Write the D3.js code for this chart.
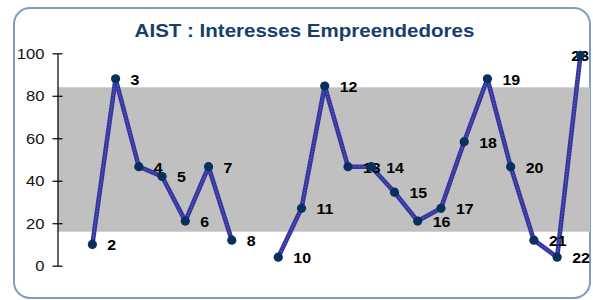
<!DOCTYPE html>
<html>
<head>
<meta charset="utf-8">
<script src="https://cdnjs.cloudflare.com/ajax/libs/d3/7.8.5/d3.min.js"></script>
<style>
  body { margin: 0; background: #fff; }
  svg { display: block; font-family: "Liberation Sans", Arial, sans-serif; }
</style>
</head>
<body>
<svg id="chart" width="593" height="300"></svg>
<script>
// data (null = no value)
var categories = d3.range(1, 24)
var values = [null, 10, 88, 46.6, 42, 21, 46.6, 12, null, 4, 27, 84.6, 46.6, 46.6, 34.6, 21, 27, 58.4, 88, 46.6, 12, 4, 99]
var band = [16, 84]
var yTicks = [0, 20, 40, 60, 80, 100]
var title = "AIST : Interesses Empreendedores"

var svg = d3.select("#chart")

var left = 57.5, right = 592, plotRight = 590
// the original picture is a bit stretched sideways
var sx = 1.14

var x = d3.scaleBand()
    .domain(categories)
    .range([left, right])

var y = d3.scaleLinear()
    .domain([0, 100])
    .range([265.7, 53.3])

var pts = categories.map(function(c, i) { return {cat: c, v: values[i]} })

// frame
svg.append("rect")
    .attr("x", 14).attr("y", 8)
    .attr("width", 576).attr("height", 290)
    .attr("rx", 16).attr("ry", 16)
    .attr("fill", "#fff")
    .attr("stroke", "#819dc0")
    .attr("stroke-width", 2)

// title
svg.append("text")
    .attr("transform", "translate(304.5,37) scale(" + sx + ",1)")
    .attr("text-anchor", "middle")
    .attr("font-size", 18)
    .attr("font-weight", "bold")
    .attr("fill", "#173f6e")
    .text(title)

// grey band
svg.append("rect")
    .attr("x", left)
    .attr("y", y(band[1]))
    .attr("width", plotRight - left)
    .attr("height", y(band[0]) - y(band[1]))
    .attr("fill", "#c0c0c0")

// y axis
var yAxis = d3.axisLeft(y)
    .tickValues(yTicks)
    .tickSizeInner(5)
    .tickSizeOuter(0)

var gy = svg.append("g")
    .attr("transform", "translate(" + left + ",0)")
    .call(yAxis)

gy.select(".domain").attr("stroke", "#000").attr("stroke-width", 1.2)
gy.selectAll(".tick line").attr("x2", 5).attr("x1", -5).attr("stroke", "#000").attr("stroke-width", 1.2)
gy.selectAll(".tick text")
    .attr("x", -13 / 1.07)
    .attr("transform", "scale(1.07,1)")
    .attr("font-size", 15.5)
    .attr("font-family", "Liberation Sans, Arial, sans-serif")
    .attr("fill", "#111")

// line
var line = d3.line()
    .defined(function(d) { return d.v != null })
    .x(function(d) { return x(d.cat) + x.bandwidth() / 2 })
    .y(function(d) { return y(d.v) })

svg.append("path")
    .datum(pts)
    .attr("d", line)
    .attr("fill", "none")
    .attr("stroke", "#35359e")
    .attr("stroke-width", 4.6)
    .attr("stroke-linejoin", "round")

svg.append("path")
    .datum(pts)
    .attr("d", line)
    .attr("fill", "none")
    .attr("stroke", "#5c5cc4")
    .attr("stroke-width", 1.2)
    .attr("stroke-dasharray", "1.5 1.5")

var defined = pts.filter(function(d) { return d.v != null })

// point labels
svg.selectAll(".lbl")
    .data(defined)
    .join("text")
    .attr("class", "lbl")
    .attr("font-size", 14)
    .attr("font-weight", "bold")
    .attr("fill", "#000")
    .text(function(d) { return d.cat })
    .each(function(d) {
        var t = d3.select(this)
        var w = this.getComputedTextLength() * sx
        var lx = x(d.cat) + x.bandwidth() / 2 + 15
        var ly = y(d.v) + 6
        if (lx + w > plotRight) {
            lx = 589
            t.attr("text-anchor", "end")
        }
        t.attr("transform", "translate(" + lx + "," + ly + ") scale(" + sx + ",1)")
    })

// markers
svg.selectAll(".dot")
    .data(defined)
    .join("circle")
    .attr("class", "dot")
    .attr("cx", function(d) { return x(d.cat) + x.bandwidth() / 2 })
    .attr("cy", function(d) { return y(d.v) })
    .attr("r", 4.6)
    .attr("fill", "#08305e")
</script>
</body>
</html>
